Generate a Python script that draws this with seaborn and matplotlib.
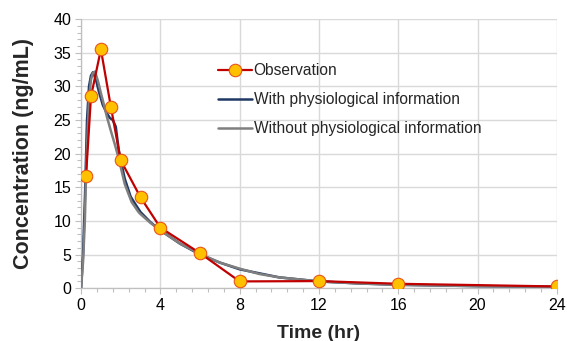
import numpy as np
import pandas as pd
import matplotlib
matplotlib.use("Agg")
import matplotlib.pyplot as plt
from matplotlib.ticker import MultipleLocator
import seaborn as sns

# Observed plasma concentrations
obs_time = [0.25, 0.5, 1, 1.5, 2, 3, 4, 6, 8, 12, 16, 24]
obs_conc = [16.7, 28.5, 35.5, 27.0, 19.0, 13.5, 9.0, 5.2, 1.0, 1.05, 0.65, 0.25]

# Model prediction with physiological information
phys_time = [0, 0.1, 0.2, 0.3, 0.4, 0.5, 0.6, 0.75, 0.9, 1.1, 1.3, 1.45, 1.6, 1.75,
             1.9, 2.0, 2.2, 2.5, 2.8, 3.0, 3.5, 4, 5, 6, 7, 8, 10, 12, 14, 16, 20, 24]
phys_conc = [0, 5.0, 14.0, 25.0, 30.0, 31.6, 32.1, 31.0, 29.2, 27.2, 26.0, 25.3, 25.0, 24.0,
             20.5, 19.0, 16.3, 13.6, 12.2, 11.3, 9.8, 8.6, 6.6, 5.0, 3.8, 2.8, 1.6, 1.0, 0.7, 0.5, 0.3, 0.2]

# Model prediction without physiological information
nophys_time = [0, 0.1, 0.19, 0.25, 0.3, 0.4, 0.5, 0.6, 0.7, 0.85, 1.0, 1.15, 1.3, 1.5,
               1.7, 1.85, 2.0, 2.2, 2.55, 2.9, 3.0, 3.5, 4, 5, 6, 7, 8, 9, 10, 12, 14, 16, 20, 24]
nophys_conc = [0, 4.0, 10.0, 16.7, 21.0, 28.0, 31.0, 32.0, 32.2, 30.8, 29.0, 27.3, 25.5, 23.4,
               21.4, 19.8, 18.0, 15.5, 12.8, 11.3, 11.0, 9.7, 8.6, 6.6, 5.1, 3.8, 2.9, 2.1, 1.6, 1.0, 0.7, 0.5, 0.3, 0.2]

x_ticks = [0, 4, 8, 12, 16, 20, 24]
y_ticks = [0, 5, 10, 15, 20, 25, 30, 35, 40]

sns.set_theme(style="white")
plt.rcParams["font.family"] = ["Liberation Sans", "DejaVu Sans"]

fig = plt.figure(figsize=(5.67, 3.41), dpi=100)
ax = fig.add_axes([0.143, 0.155, 0.839, 0.789])

obs = pd.DataFrame({"t": obs_time, "c": obs_conc})
phys = pd.DataFrame({"t": phys_time, "c": phys_conc})
nophys = pd.DataFrame({"t": nophys_time, "c": nophys_conc})

sns.lineplot(data=obs, x="t", y="c", ax=ax, color="#C00000", linewidth=1.6,
             marker="o", markersize=9, markerfacecolor="#FFC000",
             markeredgecolor="#E8541A", markeredgewidth=0.8,
             label="Observation", zorder=3, estimator=None)
sns.lineplot(data=phys, x="t", y="c", ax=ax, color="#203864", linewidth=1.8,
             label="With physiological information", zorder=4, estimator=None)
sns.lineplot(data=nophys, x="t", y="c", ax=ax, color="#7F7F7F", linewidth=1.8,
             label="Without physiological information", zorder=5, estimator=None)

# keep the observation markers above the model curves
ax.lines[0].set_zorder(6)

ax.set_xlim(0, 24)
ax.set_ylim(0, 40)
ax.set_xticks(x_ticks)
ax.set_yticks(y_ticks)
ax.xaxis.set_minor_locator(MultipleLocator(0.8))
ax.yaxis.set_minor_locator(MultipleLocator(1))
ax.tick_params(axis="both", which="major", labelsize=11.5, colors="#000000",
               length=4, width=0.8, direction="out", color="#BFBFBF", pad=3)
ax.tick_params(axis="both", which="minor", length=3, width=0.8,
               direction="out", color="#BFBFBF")
ax.tick_params(bottom=True, left=True, which="both")

ax.grid(True, which="major", color="#D9D9D9", linewidth=1.0)
ax.set_axisbelow(True)
for side in ["top", "right"]:
    ax.spines[side].set_visible(False)
for side in ["left", "bottom"]:
    ax.spines[side].set_color("#BFBFBF")
    ax.spines[side].set_linewidth(0.9)

ax.set_xlabel("Time (hr)", fontsize=14, fontweight="bold", labelpad=9)
ax.set_ylabel("Concentration (ng/mL)", fontsize=15.5, fontweight="bold", labelpad=14)

leg = ax.legend(loc="upper left", bbox_to_anchor=(0.258, 0.887), frameon=False,
                fontsize=11.2, handlelength=2.2, handletextpad=0.1,
                labelspacing=0.9)

fig.savefig("out.png", dpi=100)
